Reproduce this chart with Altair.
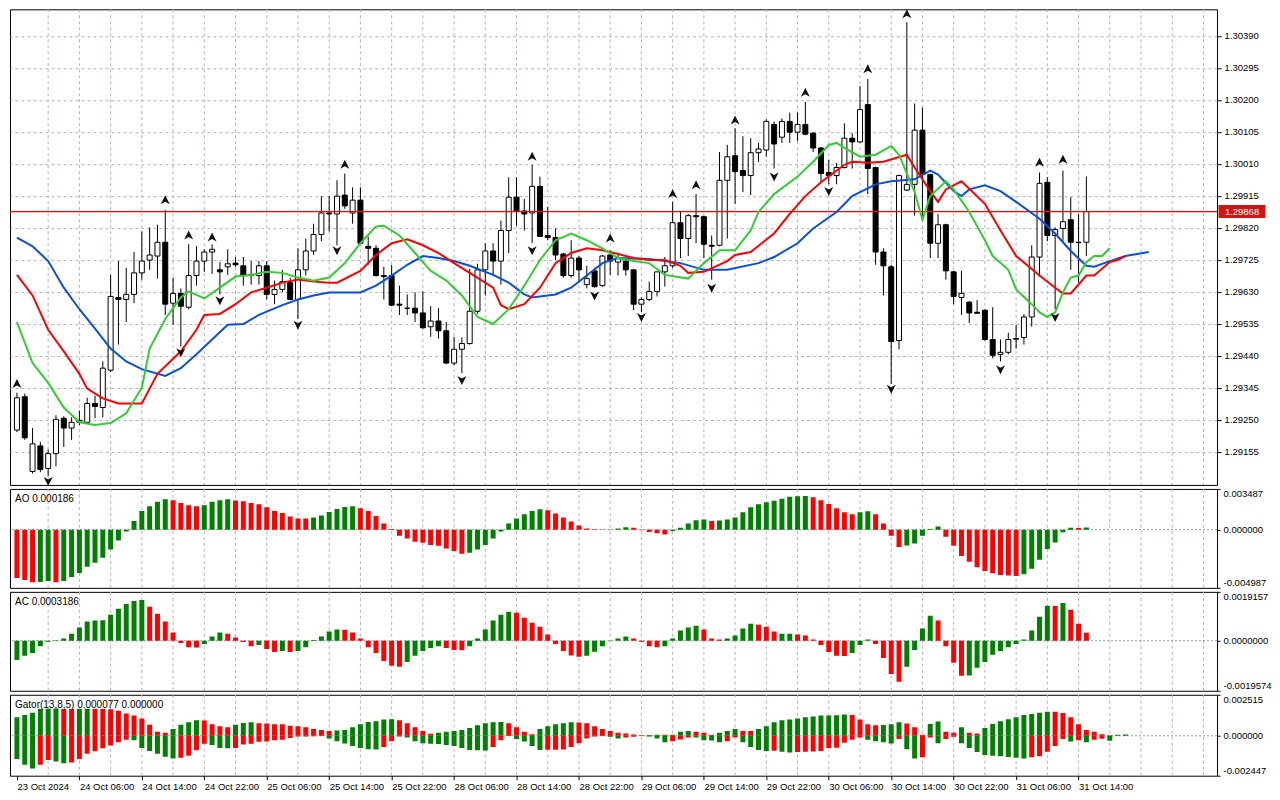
import altair as alt
import pandas as pd

# ---------------- values (GBPUSD H1-like chart) ----------------
opens = [1.29219,1.29318,1.29096,1.29172,1.29105,1.29149,1.29254,1.29225,1.29242,1.29242,
         1.29298,1.29286,1.29397,1.29613,1.29607,1.29622,1.29686,1.29724,1.29736,1.29777,
         1.29596,1.29625,1.29584,1.29678,1.29721,1.29748,1.29695,1.29704,1.29715,1.29707,
         1.29678,1.29678,1.29707,1.29622,1.29637,1.29657,1.29607,1.29695,1.29751,1.29800,
         1.29864,1.29861,1.29917,1.29864,1.29902,1.29765,1.29759,1.29678,1.29678,1.29593,
         1.29581,1.29581,1.29567,1.29526,1.29543,1.29514,1.29418,1.29459,1.29476,1.29572,
         1.29695,1.29751,1.29721,1.29812,1.29911,1.29870,1.29864,1.29943,1.29797,1.29791,
         1.29742,1.29678,1.29730,1.29651,1.29692,1.29648,1.29739,1.29718,1.29721,1.29695,
         1.29593,1.29607,1.29631,1.29689,1.29707,1.29835,1.29788,1.29856,1.29853,1.29768,
         1.29768,1.29961,1.30034,1.29990,1.29975,1.30043,1.30051,1.30127,1.30089,1.30136,
         1.30104,1.30127,1.30101,1.30057,1.29984,1.29975,1.29999,1.30086,1.30075,1.30186,
         1.29999,1.29748,1.29704,1.29485,1.29932,1.29949,1.30110,1.29978,1.29774,1.29829,
         1.29689,1.29613,1.29599,1.29569,1.29575,1.29488,1.29444,1.29450,1.29491,1.29494,
         1.29555,1.29733,1.29955,1.29797,1.29818,1.29844,1.29777,1.29777]
highs = [1.29330,1.29327,1.29225,1.29184,1.29161,1.29263,1.29260,1.29257,1.29277,1.29315,
         1.29321,1.29423,1.29680,1.29721,1.29701,1.29748,1.29809,1.29821,1.29829,1.29873,
         1.29672,1.29640,1.29771,1.29765,1.29756,1.29771,1.29718,1.29756,1.29733,1.29733,
         1.29721,1.29721,1.29721,1.29663,1.29695,1.29672,1.29759,1.29788,1.29832,1.29914,
         1.29914,1.29961,1.29981,1.29940,1.29940,1.29794,1.29768,1.29704,1.29710,1.29648,
         1.29622,1.29628,1.29631,1.29587,1.29581,1.29540,1.29496,1.29494,1.29698,1.29713,
         1.29774,1.29774,1.29841,1.29970,1.29970,1.29905,1.30007,1.29972,1.29882,1.29818,
         1.29745,1.29783,1.29736,1.29707,1.29701,1.29739,1.29753,1.29739,1.29730,1.29698,
         1.29613,1.29660,1.29689,1.29733,1.29897,1.29867,1.29861,1.29920,1.29856,1.29797,
         1.30045,1.30066,1.30116,1.30092,1.30086,1.30072,1.30142,1.30136,1.30145,1.30162,
         1.30162,1.30194,1.30104,1.30060,1.30022,1.30013,1.30130,1.30101,1.30241,1.30262,
         1.30002,1.29759,1.29710,1.29978,1.30431,1.30189,1.30177,1.29981,1.29861,1.29832,
         1.29692,1.29692,1.29602,1.29605,1.29578,1.29584,1.29488,1.29508,1.29532,1.29564,
         1.29768,1.29984,1.29970,1.29821,1.29990,1.29911,1.29861,1.29972]
lows = [1.29213,1.29190,1.29090,1.29094,1.29082,1.29111,1.29169,1.29190,1.29234,1.29240,
        1.29254,1.29257,1.29391,1.29473,1.29540,1.29596,1.29666,1.29695,1.29669,1.29561,
        1.29532,1.29467,1.29578,1.29648,1.29689,1.29683,1.29622,1.29680,1.29704,1.29648,
        1.29651,1.29651,1.29607,1.29593,1.29628,1.29605,1.29549,1.29678,1.29739,1.29780,
        1.29809,1.29768,1.29876,1.29832,1.29771,1.29710,1.29675,1.29607,1.29587,1.29561,
        1.29561,1.29540,1.29520,1.29496,1.29491,1.29415,1.29412,1.29388,1.29473,1.29564,
        1.29619,1.29680,1.29651,1.29745,1.29826,1.29812,1.29774,1.29794,1.29783,1.29724,
        1.29672,1.29672,1.29657,1.29640,1.29642,1.29645,1.29680,1.29678,1.29678,1.29575,
        1.29569,1.29602,1.29616,1.29645,1.29701,1.29730,1.29736,1.29774,1.29730,1.29666,
        1.29765,1.29788,1.29891,1.29926,1.29917,1.30016,1.30031,1.29996,1.30072,1.30072,
        1.30078,1.30095,1.30045,1.29955,1.29949,1.29949,1.29996,1.29996,1.30072,1.29920,
        1.29710,1.29619,1.29356,1.29459,1.29929,1.29856,1.29841,1.29730,1.29730,1.29666,
        1.29593,1.29561,1.29537,1.29564,1.29485,1.29432,1.29423,1.29444,1.29461,1.29473,
        1.29526,1.29675,1.29780,1.29578,1.29780,1.29695,1.29657,1.29736]
closes = [1.29315,1.29196,1.29178,1.29102,1.29149,1.29251,1.29225,1.29242,1.29248,1.29298,
          1.29289,1.29403,1.29616,1.29607,1.29622,1.29686,1.29721,1.29739,1.29777,1.29593,
          1.29625,1.29587,1.29678,1.29721,1.29748,1.29756,1.29689,1.29713,1.29710,1.29678,
          1.29680,1.29707,1.29622,1.29637,1.29660,1.29607,1.29695,1.29751,1.29800,1.29864,
          1.29861,1.29914,1.29885,1.29902,1.29774,1.29759,1.29678,1.29675,1.29590,1.29590,
          1.29581,1.29567,1.29523,1.29543,1.29514,1.29418,1.29459,1.29476,1.29572,1.29695,
          1.29751,1.29721,1.29812,1.29911,1.29870,1.29861,1.29943,1.29794,1.29791,1.29739,
          1.29678,1.29730,1.29695,1.29669,1.29645,1.29736,1.29721,1.29730,1.29695,1.29593,
          1.29607,1.29631,1.29689,1.29707,1.29835,1.29788,1.29856,1.29853,1.29771,1.29765,
          1.29961,1.30031,1.29987,1.29975,1.30043,1.30054,1.30136,1.30069,1.30136,1.30104,
          1.30127,1.30098,1.30057,1.29981,1.29975,1.29999,1.30086,1.30075,1.30171,1.29996,
          1.29748,1.29707,1.29482,1.29975,1.29949,1.30110,1.29978,1.29774,1.29829,1.29692,
          1.29616,1.29625,1.29567,1.29566,1.29488,1.29441,1.29450,1.29488,1.29489,1.29555,
          1.29733,1.29952,1.29797,1.29815,1.29838,1.29777,1.29776,1.29868]

up_fractal_bar = [0, 19, 22, 25, 42, 66, 76, 84, 87, 92, 101, 109, 114, 131, 134]
up_fractal_price = [1.29356, 1.29902, 1.29797, 1.29791, 1.30007, 1.30031, 1.29788, 1.29920,
                    1.29946, 1.30139, 1.30221, 1.30291, 1.30454, 1.30013, 1.30022]
down_fractal_bar = [4, 21, 26, 36, 41, 57, 66, 74, 80, 89, 97, 104, 112, 126, 133]
down_fractal_price = [1.29068, 1.29450, 1.29605, 1.29532, 1.29753, 1.29368, 1.29753, 1.29619,
                      1.29555, 1.29642, 1.29972, 1.29929, 1.29342, 1.29400, 1.29555]

jaw_bar = [0,2,4,6,8,10,12,14,16,19,21,23,25,27,29,31,34,36,38,40,44,46,48,50,52,54,56,58,61,63,
           65,66,69,71,73,75,77,81,85,88,91,95,97,100,102,105,107,110,112,115,117,118,120,121,122,
           124,126,128,131,133,135,137,138,140,142,145]
jaw_price = [1.29791,1.29765,1.29721,1.29642,1.29578,1.29520,1.29461,1.29423,1.29400,1.29380,
             1.29403,1.29444,1.29488,1.29532,1.29534,1.29561,1.29590,1.29607,1.29619,1.29628,
             1.29628,1.29648,1.29678,1.29710,1.29736,1.29730,1.29721,1.29707,1.29680,1.29657,
             1.29622,1.29613,1.29622,1.29642,1.29678,1.29715,1.29730,1.29727,1.29715,1.29695,
             1.29695,1.29715,1.29733,1.29774,1.29818,1.29867,1.29914,1.29949,1.29958,1.29964,
             1.29990,1.29978,1.29929,1.29914,1.29934,1.29946,1.29929,1.29897,1.29847,1.29803,
             1.29751,1.29707,1.29704,1.29721,1.29736,1.29748]
teeth_bar = [0,2,4,6,8,9,11,13,16,18,21,23,24,26,28,30,32,34,36,38,40,41,44,46,48,50,52,54,56,58,
             61,62,63,65,67,69,71,73,75,77,79,81,83,85,86,88,91,92,94,97,99,101,103,106,107,109,111,
             114,115,117,118,119,121,124,126,128,131,133,134,135,137,138,140,141,142]
teeth_price = [1.29680,1.29619,1.29517,1.29453,1.29386,1.29342,1.29313,1.29298,1.29298,1.29386,
               1.29453,1.29517,1.29561,1.29564,1.29593,1.29628,1.29642,1.29657,1.29666,1.29660,
               1.29657,1.29657,1.29692,1.29739,1.29774,1.29786,1.29768,1.29745,1.29715,1.29686,
               1.29642,1.29590,1.29578,1.29593,1.29642,1.29715,1.29745,1.29759,1.29753,1.29742,
               1.29730,1.29724,1.29724,1.29707,1.29686,1.29689,1.29721,1.29739,1.29748,1.29803,
               1.29861,1.29914,1.29955,1.30007,1.30016,1.30013,1.30016,1.30037,1.29999,1.29929,
               1.29897,1.29934,1.29958,1.29891,1.29812,1.29736,1.29678,1.29642,1.29625,1.29625,
               1.29678,1.29678,1.29718,1.29724,1.29736]
lips_bar = [0,2,4,6,8,10,12,14,16,17,19,21,22,24,26,28,30,32,34,36,38,40,42,44,46,47,49,51,53,55,
            57,59,61,63,65,67,69,71,73,75,77,79,81,83,86,88,90,92,94,95,97,100,102,104,105,106,108,
            110,112,113,115,116,117,119,120,122,124,125,127,128,130,131,132,133,134,135,136,137,138,
            139,140]
lips_price = [1.29540,1.29418,1.29359,1.29286,1.29242,1.29234,1.29240,1.29269,1.29345,1.29461,
              1.29549,1.29613,1.29631,1.29610,1.29642,1.29675,1.29680,1.29689,1.29686,1.29672,
              1.29663,1.29672,1.29715,1.29774,1.29824,1.29826,1.29797,1.29745,1.29692,1.29663,
              1.29619,1.29555,1.29534,1.29578,1.29648,1.29724,1.29783,1.29803,1.29783,1.29759,
              1.29730,1.29721,1.29715,1.29680,1.29669,1.29715,1.29753,1.29753,1.29812,1.29867,
              1.29920,1.29972,1.30016,1.30066,1.30072,1.30057,1.30031,1.30037,1.30063,1.30037,
              1.29926,1.29844,1.29914,1.29958,1.29934,1.29867,1.29783,1.29736,1.29695,1.29637,
              1.29593,1.29569,1.29555,1.29569,1.29628,1.29672,1.29678,1.29718,1.29736,1.29736,
              1.29759]

ao_values = [-0.00415,-0.00432,-0.00450,-0.00449,-0.00441,-0.00450,-0.00441,-0.00406,-0.00371,-0.00319,
             -0.00284,-0.00241,-0.00171,-0.00093,-0.00015,0.00073,0.00160,0.00200,0.00238,0.00261,
             0.00252,0.00229,0.00209,0.00200,0.00209,0.00238,0.00252,0.00261,0.00249,0.00244,
             0.00229,0.00218,0.00191,0.00160,0.00142,0.00113,0.00096,0.00095,0.00104,0.00122,
             0.00151,0.00177,0.00194,0.00200,0.00183,0.00160,0.00116,0.00052,0.00006,-0.00052,
             -0.00075,-0.00104,-0.00113,-0.00131,-0.00139,-0.00162,-0.00183,-0.00206,-0.00197,-0.00171,
             -0.00131,-0.00075,-0.00015,0.00052,0.00096,0.00131,0.00160,0.00174,0.00165,0.00139,
             0.00104,0.00070,0.00035,0.00009,0.00003,0.00001,0.00002,0.00009,0.00020,0.00017,
             -0.00006,-0.00020,-0.00032,-0.00041,-0.00012,0.00017,0.00052,0.00081,0.00087,0.00073,
             0.00078,0.00087,0.00104,0.00148,0.00191,0.00218,0.00235,0.00247,0.00264,0.00281,
             0.00287,0.00288,0.00278,0.00252,0.00220,0.00183,0.00148,0.00131,0.00148,0.00157,
             0.00131,0.00052,-0.00052,-0.00148,-0.00136,-0.00119,-0.00052,0.00006,0.00026,-0.00061,
             -0.00139,-0.00226,-0.00276,-0.00322,-0.00354,-0.00374,-0.00389,-0.00392,-0.00397,-0.00383,
             -0.00336,-0.00258,-0.00165,-0.00110,-0.00023,0.00017,0.00015,0.000186]
ao_colors = ("RRRGGRGGGG" "GGGGGGGGGG" "RRRRGGGGRR" "RRRRRRRRGG" "GGGGRRRRRR"
             "RRRRRRRRGG" "GGGGGGGGRR" "RRRRRRGGGR" "RRRRGGGGGR" "GGGGGGGGGG"
             "GGRRRRRRGG" "RRRRGGGGGR" "RRRRRRRRRG" "GGGGGGRG")

ac_values = [-0.00075,-0.00059,-0.00048,-0.00021,-0.00004,0.00002,0.00009,0.00028,0.00052,0.00075,
             0.00079,0.00080,0.00102,0.00125,0.00144,0.00156,0.00160,0.00133,0.00106,0.00075,
             0.00032,-0.00009,-0.00025,-0.00026,-0.00013,0.00017,0.00032,0.00028,0.00013,-0.00005,
             -0.00021,-0.00017,-0.00032,-0.00044,-0.00040,-0.00044,-0.00040,-0.00025,0.00003,0.00017,
             0.00036,0.00044,0.00043,0.00032,0.00009,-0.00025,-0.00048,-0.00079,-0.00098,-0.00102,
             -0.00083,-0.00059,-0.00040,-0.00028,-0.00021,-0.00028,-0.00036,-0.00037,-0.00021,0.00009,
             0.00044,0.00079,0.00102,0.00114,0.00110,0.00090,0.00071,0.00055,0.00025,-0.00013,
             -0.00040,-0.00058,-0.00063,-0.00059,-0.00043,-0.00021,0.00001,0.00009,0.00017,0.00009,
             -0.00004,-0.00021,-0.00025,-0.00021,0.00009,0.00040,0.00052,0.00059,0.00044,0.00009,
             0.00005,0.00009,0.00021,0.00048,0.00067,0.00063,0.00055,0.00036,0.00028,0.00028,
             0.00025,0.00021,0.00005,-0.00017,-0.00044,-0.00059,-0.00060,-0.00048,-0.00017,0.00005,
             -0.00013,-0.00067,-0.00130,-0.00160,-0.00102,-0.00036,0.00048,0.00098,0.00079,-0.00021,
             -0.00086,-0.00137,-0.00136,-0.00106,-0.00083,-0.00055,-0.00040,-0.00025,-0.00013,0.00005,
             0.00040,0.00094,0.00137,0.00136,0.00148,0.00121,0.00067,0.0003186]
ac_colors = ("GGGGGGGGGG" "GGGGGGGRRR" "RRRRGGGRRR" "RGRRGRGGGG" "GGRRRRRRRR"
             "GGGGGRRRGG" "GGGGRRRRRR" "RRRGGGGGGR" "RRRGGGGGRR" "RGGGGRRRGG"
             "RRRRRRRGGG" "RRRRGGGGRR" "RRGGGGGGGG" "GGGRGRRR")

gator_upper = [0.00114,0.00128,0.00142,0.00165,0.00166,0.00167,0.00165,0.00164,0.00165,0.00166,
               0.00165,0.00164,0.00163,0.00154,0.00136,0.00124,0.00106,0.00067,0.00024,0.00018,
               0.00041,0.00067,0.00083,0.00095,0.00094,0.00071,0.00059,0.00053,0.00067,0.00079,
               0.00083,0.00077,0.00075,0.00071,0.00070,0.00061,0.00059,0.00053,0.00041,0.00035,
               0.00030,0.00032,0.00035,0.00053,0.00071,0.00085,0.00089,0.00100,0.00101,0.00095,
               0.00077,0.00053,0.00030,0.00012,0.00018,0.00024,0.00030,0.00035,0.00047,0.00065,
               0.00077,0.00083,0.00084,0.00077,0.00053,0.00024,0.00010,0.00041,0.00059,0.00071,
               0.00077,0.00083,0.00082,0.00077,0.00059,0.00041,0.00030,0.00018,0.00014,0.00008,
               0.00004,0.00005,0.00006,0.00006,0.00007,0.00024,0.00030,0.00024,0.00018,0.00006,
               0.00018,0.00030,0.00041,0.00030,0.00029,0.00041,0.00059,0.00083,0.00095,0.00100,
               0.00106,0.00114,0.00118,0.00124,0.00125,0.00126,0.00130,0.00128,0.00100,0.00071,
               0.00065,0.00066,0.00070,0.00083,0.00075,0.00053,0.00006,0.00073,0.00087,0.00024,
               0.00018,0.00053,0.00018,0.00014,0.00047,0.00073,0.00089,0.00102,0.00114,0.00128,
               0.00134,0.00142,0.00148,0.00147,0.00140,0.00114,0.00071,0.00035,0.00024,0.00010,
               0.00004,0.00006,0.000077]
gator_upper_colors = ("GGGGGGRRGG" "RRRRRRRRRR" "GGGGRRRRGG" "GRRRRRRRRR" "RGGGGGGGGR"
                      "RRRRGGGGGG" "GGGRRRRGGG" "GGRRRRRRRR" "RGGRGGGRRR" "GGGRRGGGGG"
                      "GGGGGGGRRR" "RGGGRRRGGR" "RGRRGGGGGG" "GGGRRRRRRR" "RGG")
gator_lower = [-0.00142,-0.00177,-0.00201,-0.00177,-0.00148,-0.00158,-0.00169,-0.00164,-0.00142,-0.00110,
               -0.00095,-0.00077,-0.00059,-0.00039,-0.00024,-0.00028,-0.00075,-0.00093,-0.00110,-0.00128,
               -0.00140,-0.00134,-0.00122,-0.00089,-0.00049,-0.00057,-0.00075,-0.00077,-0.00075,-0.00053,
               -0.00049,-0.00037,-0.00035,-0.00028,-0.00024,-0.00014,-0.00004,-0.00004,-0.00003,-0.00002,
               -0.00016,-0.00033,-0.00047,-0.00063,-0.00075,-0.00083,-0.00084,-0.00069,-0.00033,-0.00004,
               -0.00010,-0.00033,-0.00045,-0.00049,-0.00050,-0.00057,-0.00063,-0.00075,-0.00087,-0.00089,
               -0.00090,-0.00069,-0.00028,-0.00002,-0.00020,-0.00035,-0.00063,-0.00087,-0.00086,-0.00085,
               -0.00084,-0.00069,-0.00045,-0.00016,-0.00004,-0.00002,-0.00006,-0.00016,-0.00010,-0.00006,
               -0.00002,-0.00004,-0.00016,-0.00039,-0.00033,-0.00022,-0.00010,-0.00011,-0.00028,-0.00029,
               -0.00039,-0.00033,-0.00010,-0.00039,-0.00069,-0.00087,-0.00093,-0.00092,-0.00098,-0.00102,
               -0.00099,-0.00098,-0.00097,-0.00093,-0.00075,-0.00074,-0.00043,-0.00024,-0.00010,-0.00024,
               -0.00033,-0.00039,-0.00047,-0.00020,-0.00083,-0.00140,-0.00132,-0.00010,-0.00045,-0.00020,
               -0.00006,-0.00045,-0.00075,-0.00100,-0.00118,-0.00122,-0.00126,-0.00130,-0.00134,-0.00140,
               -0.00132,-0.00125,-0.00098,-0.00063,-0.00020,-0.00035,-0.00028,-0.00040,-0.00025,-0.00018,
               -0.00030]
gator_lower_colors = ("GGGRRGGRRR" "RRRRRGGGGG" "GRRRRGGGRR" "RRRRRRRRRR" "GGGGGGGRRR"
                      "GGGGGGGGGG" "GRRRGGGGRR" "RRRRRRGGRR" "RGGGRRRGGG" "GRRGGGGRGG"
                      "RRRRRRRRRG" "GGGRGGRRGR" "RGGGGGGGGG" "RRRRRGRGRR" "G")

price_ticks = [1.29155, 1.29250, 1.29345, 1.29440, 1.29535, 1.29630, 1.29725,
               1.29820, 1.29915, 1.30010, 1.30105, 1.30200, 1.30295, 1.30390]
current_price = 1.29868
time_tick_bars = [0, 8, 16, 24, 32, 40, 48, 56, 64, 72, 80, 88, 96, 104, 112, 120, 128, 136]
time_tick_labels = ["23 Oct 2024", "24 Oct 06:00", "24 Oct 14:00", "24 Oct 22:00", "25 Oct 06:00",
                    "25 Oct 14:00", "25 Oct 22:00", "28 Oct 06:00", "28 Oct 14:00", "28 Oct 22:00",
                    "29 Oct 06:00", "29 Oct 14:00", "29 Oct 22:00", "30 Oct 06:00", "30 Oct 14:00",
                    "30 Oct 22:00", "31 Oct 06:00", "31 Oct 14:00"]
ao_ticks = [-0.004987, 0.0, 0.003487]
ac_ticks = [-0.0019574, 0.0, 0.0019157]
gator_ticks = [-0.002447, 0.0, 0.002515]
ao_title = "AO 0.000186"
ac_title = "AC 0.0003186"
gator_title = "Gator(13,8,5) 0.000077 0.000000"

# ---------------- styling ----------------
W = 1208
H_MAIN, H_AO, H_AC, H_GATOR = 476, 99, 99, 81
XDOM = [-0.25, 153.1]
PRICE_DOM = [1.29056, 1.30469]
FONT = "Liberation Sans"
FS = 9.5
GRID = "#bcaebf"
BLUE, RED, LIME = "#0a50d8", "#ff0000", "#32cd32"
HIST_COLORS = alt.Scale(domain=["G", "R"], range=["#008000", "#ff0000"])

UP_PATH = "M0,-1L0.9,0.8L0,0.3L-0.9,0.8Z"
DOWN_PATH = "M0,1L0.9,-0.8L0,-0.3L-0.9,-0.8Z"
RECT_PATH = "M-1,-0.277L1,-0.277L1,0.277L-1,0.277Z"

label_expr = " : ".join(f"datum.value == {b} ? '{t}'" for b, t in zip(time_tick_bars, time_tick_labels)) + " : ''"
x_axis_bottom = alt.Axis(values=time_tick_bars, labelExpr=label_expr, labelAlign="left",
                         labelBaseline="top", labelPadding=2, tickSize=4, tickColor="#000",
                         domain=False, grid=False, title=None, labelFont=FONT, labelFontSize=FS,
                         labelColor="#000", labelOverlap=False, labelBound=False, labelFlush=False)


def xq(axis):
    return alt.X("k:Q", scale=alt.Scale(domain=XDOM, nice=False, zero=False), axis=axis)


vgrid_df = pd.DataFrame({"k": list(range(4, 153, 4))})


def vgrid(axis):
    return alt.Chart(vgrid_df).mark_rule(color=GRID, strokeDash=[3, 3], strokeWidth=1).encode(x=xq(axis))


# ---------------- main price panel ----------------
candles = pd.DataFrame({"k": list(range(len(opens))), "o": opens, "h": highs, "l": lows, "c": closes})
main_axis = alt.Axis(orient="right", values=price_ticks, format=".5f", grid=True, gridColor=GRID,
                     gridDash=[3, 3], tickSize=4, tickColor="#000", domain=False, labelPadding=3,
                     title=None, labelFont=FONT, labelFontSize=FS, labelColor="#000")


def ym(field):
    return alt.Y(f"{field}:Q", scale=alt.Scale(domain=PRICE_DOM, nice=False, zero=False), axis=main_axis)


def line_layer(bars, prices, color):
    df = pd.DataFrame({"k": bars, "p": prices})
    return alt.Chart(df).mark_line(color=color, strokeWidth=2, clip=True).encode(x=xq(None), y=ym("p"))


price_df = pd.DataFrame({"p": [current_price], "t": [f"{current_price:.5f}"]})

price_line = alt.Chart(price_df).mark_rule(stroke="#ff0000", color="#ff0000", strokeWidth=1.3,
                                           opacity=1).encode(y=ym("p"))
wicks = alt.Chart(candles).mark_rule(color="#000", strokeWidth=1, clip=True).encode(
    x=xq(None), y=ym("l"), y2="h:Q")
bodies = alt.Chart(candles).mark_bar(size=5, stroke="#000", strokeWidth=1, clip=True).encode(
    x=xq(None), y=ym("o"), y2="c:Q",
    fill=alt.condition("datum.c >= datum.o", alt.value("#ffffff"), alt.value("#000000")))
up_fr = alt.Chart(pd.DataFrame({"k": up_fractal_bar, "p": up_fractal_price})).mark_point(
    shape=UP_PATH, filled=True, color="#111111", size=100, opacity=1, clip=True).encode(x=xq(None), y=ym("p"))
dn_fr = alt.Chart(pd.DataFrame({"k": down_fractal_bar, "p": down_fractal_price})).mark_point(
    shape=DOWN_PATH, filled=True, color="#111111", size=100, opacity=1, clip=True).encode(x=xq(None), y=ym("p"))
price_box = alt.Chart(price_df).mark_point(shape=RECT_PATH, filled=True, color="#d01515", size=47 * 47,
                                           opacity=1).encode(x=alt.value(W + 25), y=ym("p"))
price_txt = alt.Chart(price_df).mark_text(color="#ffffff", font=FONT, fontSize=FS, align="center",
                                          baseline="middle").encode(x=alt.value(W + 25), y=ym("p"), text="t:N")

main = alt.layer(
    vgrid(None),
    wicks, bodies,
    price_line,
    line_layer(jaw_bar, jaw_price, BLUE),
    line_layer(teeth_bar, teeth_price, RED),
    line_layer(lips_bar, lips_price, LIME),
    up_fr, dn_fr, price_box, price_txt,
).properties(width=W, height=H_MAIN)


# ---------------- oscillator panels ----------------
def sub_panel(series, ticks, decimals, title, height, xaxis):
    yax = alt.Axis(orient="right", values=ticks,
                   labelExpr=f"replace(format(datum.value, '.{decimals}f'), '\u2212', '-')",
                   labelFlush=True, grid=False, tickSize=3, tickColor="#000", domain=False,
                   labelPadding=3, title=None, labelFont=FONT, labelFontSize=FS, labelColor="#000")

    def yy():
        return alt.Y("v:Q", scale=alt.Scale(domain=[ticks[0], ticks[2]], nice=False, zero=False), axis=yax)

    layers = [vgrid(xaxis)]
    layers.append(alt.Chart(pd.DataFrame({"v": [0.0]})).mark_rule(
        color="#8d9aa8", strokeDash=[2, 2], strokeWidth=1).encode(y=yy()))
    for vals, cols in series:
        df = pd.DataFrame({"k": list(range(len(vals))), "v": vals, "col": list(cols)})
        layers.append(alt.Chart(df).mark_bar(size=5, clip=True).encode(
            x=xq(xaxis), y=yy(),
            color=alt.Color("col:N", scale=HIST_COLORS, legend=None)))
    layers.append(alt.Chart(pd.DataFrame({"t": [title]})).mark_text(
        align="left", baseline="top", font=FONT, fontSize=FS + 0.5, color="#000").encode(
        x=alt.value(5), y=alt.value(5), text="t:N"))
    return alt.layer(*layers).properties(width=W, height=height)


ao = sub_panel([(ao_values, ao_colors)], ao_ticks, 6, ao_title, H_AO, None)
ac = sub_panel([(ac_values, ac_colors)], ac_ticks, 7, ac_title, H_AC, None)
gator = sub_panel([(gator_upper, gator_upper_colors), (gator_lower, gator_lower_colors)],
                  gator_ticks, 6, gator_title, H_GATOR, x_axis_bottom)

chart = alt.vconcat(main, ao, ac, gator, spacing=2).resolve_scale(y="independent").configure_view(
    stroke="#000000", strokeWidth=1).properties(
    background="#ffffff", padding={"left": 0, "top": 0, "right": 0, "bottom": 0})

chart.save("out.html", embed_options={"renderer": "svg", "actions": False})
